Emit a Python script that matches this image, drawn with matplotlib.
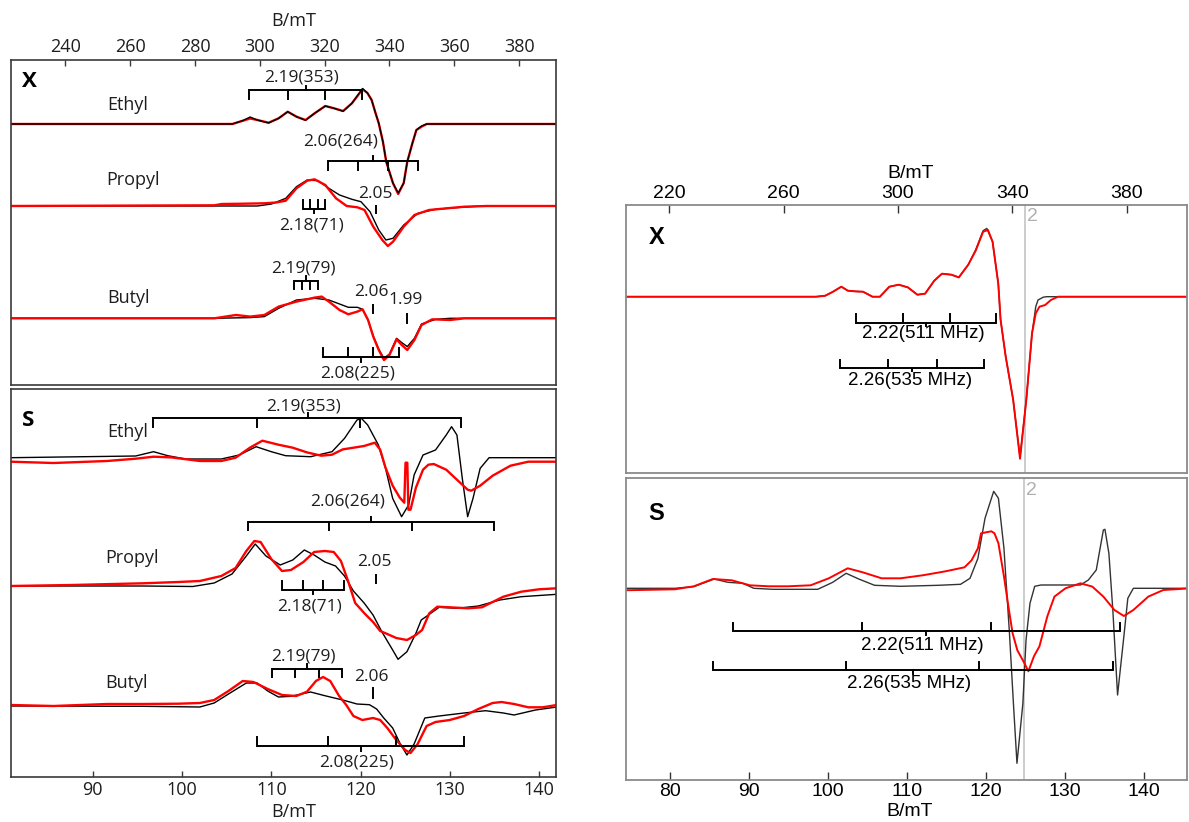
import numpy as np
import matplotlib.pyplot as plt

# ---------------- data (B in mT, intensity in arb. units) ----------------
# X band, left: ethyl / propyl / butyl
ethyl_x_B = [223, 291.5, 294.8, 297.0, 299.2, 302.7, 305.8, 308.6, 311.3, 314.1, 316.9, 320.2, 322.9, 325.7,
             328.4, 331.7, 333.2, 334.5, 335.6, 336.7, 338.0, 339.0, 341.1, 342.7, 344.4, 345.5, 347.1, 348.3,
             349.9, 351.5, 392]
ethyl_x_exp = [0, 0, 3.3, 5.5, 4, 1.3, 5.7, 12.3, 7.3, 4, 10.7, 18, 15.7, 13, 20.7, 34.7, 31, 24, 12, 0.7,
               -18, -37.7, -59.3, -70, -59, -37.7, -19, -6, -2.7, 0, 0]
ethyl_x_sim = [0, 0, 3.5, 7, 4, 1, 5.7, 12.3, 7.3, 3.7, 10.7, 18, 15.7, 12.7, 20.7, 35.5, 31, 24, 12, 0.7,
               -18, -37.7, -59.3, -69, -59, -37.7, -19, -6, -2, 0, 0]

propyl_x_exp_B = [223, 286, 288.2, 295, 301.4, 305, 308.0, 311.3, 314.6, 316.9, 320.2, 323.5, 326.8, 330.1,
                  332.3, 335.0, 337.8, 339.5, 341.1, 344.4, 347.7, 352.2, 357.7, 363.2, 370, 392]
propyl_x_exp = [0, 0.7, 2, 2.3, 2.7, 3.5, 5.3, 17.7, 25.3, 26.7, 21, 7.7, 0, -1.3, -4, -20.7, -34, -40,
                -35.7, -20.7, -9, -4, -2.3, -0.7, 0, 0]
propyl_x_sim_B = [223, 299.2, 303.6, 308.0, 311.3, 314.6, 317.9, 321.3, 324.6, 328.4, 331.2, 334.0, 336.7,
                  338.9, 341.1, 344.4, 348.8, 354.3, 362.0, 368.6, 392]
propyl_x_sim = [0, 0, 2, 7.7, 19.3, 26, 25.3, 17.7, 11, 6.7, 4.3, -5.7, -24, -34, -32.3, -19, -7.3, -3.3,
                -1.3, 0, 0]

butyl_x_exp_B = [223, 286, 292.6, 297.0, 301.4, 305.8, 311.3, 316.9, 319.1, 321.3, 324.6, 327.3, 330.1, 331.7,
                 333.4, 335.0, 336.7, 338.3, 340.0, 342.2, 343.8, 345.5, 347.7, 349.9, 353.2, 358.7, 363.2, 392]
butyl_x_exp = [0, 0, 3.3, 1.7, 3.3, 11.7, 16.7, 20.7, 21.7, 16.7, 8.3, 4, 6.7, 9, -1.7, -18.3, -31.7, -41.7,
               -36.7, -21, -26.7, -31.7, -21.7, -6.7, -1, -1.7, 0, 0]
butyl_x_sim_B = [223, 286, 297.0, 301.4, 305.8, 311.3, 316.9, 321.3, 324.6, 327.3, 330.1, 331.7, 333.4, 335.0,
                 336.7, 338.3, 340.0, 342.2, 343.8, 345.5, 347.7, 349.9, 354.3, 358.7, 392]
butyl_x_sim = [0, 0, 0.7, 1.7, 10, 18.3, 20, 18.3, 14.3, 11, 11, 9, -1.7, -17.7, -31, -40, -35.7, -20, -24.3,
               -28.3, -20, -5.7, -1, 0, 0]

# S band, left
ethyl_s_exp_B = [80.8, 85.6, 91.6, 94.8, 96.8, 98.8, 102.0, 104.4, 106.0, 107.6, 109.0, 110.8, 112.4, 114.0,
                 115.6, 116.8, 118.0, 119.2, 120.4, 121.6, 122.2, 122.8, 123.6, 124.4, 124.9, 125.04, 125.24,
                 125.36, 125.6, 126.2, 127.0, 127.6, 128.2, 129.6, 130.8, 132.0, 132.4, 133.4, 134.8, 136.8,
                 138.8, 142]
ethyl_s_exp = [-4, -5.3, -3.3, -1, 1, 0.3, -3.3, -3.3, 0, 10, 17, 13, 10, 5.3, 2, 3, 8.3, 10, 11.7, 15, 8,
               -10, -28, -40, -45, -5, -5, -52, -52, -30, -12, -7, -6.3, -12, -22, -32, -33, -28, -18, -8,
               -4, -4]
ethyl_s_sim_B = [80.8, 94.8, 96.8, 98.4, 100.4, 104.4, 106.4, 108.3, 110.0, 111.6, 114.4, 116.8, 118.2, 119.6,
                 120.1, 120.8, 122.0, 122.8, 123.6, 124.6, 125.4, 126.0, 127.0, 128.4, 129.6, 130.2, 130.8,
                 131.4, 132.0, 132.6, 133.4, 134.4, 142]
ethyl_s_sim = [0, 1.7, 6, 2, -1.3, -1.3, 2.7, 11, 6, 2, 1, 6, 19.3, 37.7, 39.3, 32.7, 12.7, -10.7, -40.7,
               -59, -47, -17.3, 2.7, 7.7, 22.7, 31, 22.7, -20.7, -59, -40.7, -10.7, 0, 0]

propyl_s_exp_B = [80.8, 87.6, 95.6, 99.6, 102, 104.4, 106, 107.2, 108.1, 108.8, 110, 111.2, 112.2, 113.6,
                  114.8, 116, 117, 117.8, 118.6, 119.4, 120.4, 121.4, 122.2, 123.0, 124.0, 125.2, 126.2,
                  126.9, 127.7, 128.6, 130, 132, 133.6, 136, 138, 140, 142]
propyl_s_exp = [0, 1, 2.7, 4, 5, 10, 18, 35, 45, 44, 27, 15, 16, 24, 34, 35, 34, 25, 5, -17, -27, -36, -45,
                -48, -52, -54, -49, -44, -27.3, -20.7, -21.3, -22.3, -21.3, -10.7, -5.7, -3.3, -2.3]
propyl_s_sim_B = [80.8, 95.6, 101.2, 103.6, 105.6, 107.2, 108.2, 109.4, 111, 112.4, 113.7, 114.8, 116, 117.2,
                  118.2, 119.2, 120.4, 121.4, 122.4, 123.6, 124.2, 125.2, 126.2, 126.8, 127.6, 128.8, 130.8,
                  133.2, 135.6, 138, 142]
propyl_s_sim = [0, 0, -0.5, 3, 12, 30, 42, 30, 21, 26, 36, 31, 24, 20, 10, -5, -17, -29, -46, -64, -73.3,
                -65.7, -47.3, -34, -29, -21.3, -22.3, -20, -14, -10.7, -8.3]

butyl_s_exp_B = [80.8, 85.6, 91.6, 95.6, 99.6, 102, 103.6, 105.2, 106.8, 108, 109.6, 111.2, 112.8, 114, 115,
                 115.8, 116.6, 117.6, 118.4, 119.2, 120.2, 121.4, 122.2, 123, 124, 125, 125.6, 126.4, 127.4,
                 128.4, 130, 131.6, 133.2, 134.8, 135.8, 137.2, 138.8, 140.4, 142]
butyl_s_exp = [1, 0, 2, 2, 2.3, 3, 6, 15, 25, 24, 17, 11, 10, 14.3, 25, 29, 25, 10, 1, -10, -14, -12, -14,
               -22, -34, -44, -47, -38, -20, -16, -14, -10, -3, 3, 4, 2, -1.3, -1.3, 1]
butyl_s_sim_B = [80.8, 95.6, 102, 103.6, 105.2, 107.2, 108.4, 109.6, 110.8, 112.2, 114.4, 116, 118, 119.6,
                 121, 121.8, 122.6, 123.6, 124.4, 125.2, 126, 127.2, 128.8, 131.6, 134, 136, 137.2, 139.6, 142]
butyl_s_sim = [0, -0.3, -1, 3, 12, 23, 23, 15, 9, 9.7, 14, 10.3, 6, 2, 1.3, -3, -12, -22, -37, -49, -38,
               -12, -10, -7, -4.7, -7, -9, -4, -1]

# right: X band
xr_exp_B = [204, 271.4, 274.6, 277.3, 280.2, 282.5, 285.2, 287.8, 291.1, 293.7, 297.0, 300.3, 303.5, 306.8,
            309.5, 312.7, 315.4, 318.7, 321.3, 324.6, 327.2, 329.8, 331.5, 333.1, 335.1, 335.9, 337.7, 340.3,
            342.7, 344.9, 346.9, 348.2, 349.5, 351.5, 353.5, 356, 402]
xr_exp = [0, 0, 1, 5, 10, 6, 5.3, 5, 0, 0, 10, 12, 9.3, 2, 3, 16, 23, 22, 19.3, 32, 46, 65, 66.7, 55, 13,
          -23, -60, -103, -162, -103, -36.7, -16.7, -10, -8.3, -3.3, 0, 0]
xr_sim_B = [204, 271.4, 274.6, 277.3, 280.2, 282.5, 285.2, 287.8, 291.1, 293.7, 297.0, 300.3, 303.5, 306.8,
            309.5, 312.7, 315.4, 318.7, 321.3, 324.6, 327.2, 329.8, 331.1, 333.1, 335.1, 335.9, 337.7, 340.3,
            342.7, 344.9, 346.9, 348.2, 349.0, 350.8, 352, 402]
xr_sim = [0, 0, 1, 5, 10, 6, 5.3, 5, 0, 0, 10, 12, 9.3, 2, 3, 16, 23, 22, 19.3, 32, 47, 66, 68.3, 55, 13,
          -23, -60, -103, -160, -103, -36.7, -10, -3.3, -0.5, 0, 0]

# right: S band
sr_exp_B = [74, 80.6, 83, 85.4, 87.8, 90.1, 92.5, 94.9, 97.8, 100.1, 102.5, 104.4, 106.8, 109.2, 112, 114.9,
            117.3, 118.2, 119, 119.4, 120.7, 121.1, 121.6, 122.3, 122.9, 123.4, 124, 124.9, 125.4, 126.1,
            126.8, 127.8, 128.7, 130.1, 132, 133.5, 134.9, 136.3, 137.5, 138.7, 140.6, 142.5, 146]
sr_exp = [-2, -1, 2, 9.3, 8, 3, 2, 2, 3, 10, 20, 16, 10, 10, 13, 17, 21, 28, 40, 55, 57, 55, 45, 12, -20,
          -45, -62, -75, -83, -68, -58, -28, -8.3, 0, 5, 1.7, -8.3, -21.7, -27.7, -21.7, -8.3, -1.7, 0]
sr_sim_B = [74, 80.6, 83, 85.6, 87.3, 89.2, 90.6, 93, 98.7, 100.6, 102.3, 103.9, 105.9, 109.2, 114, 116.8,
            118, 119, 119.9, 121, 121.6, 122.3, 123, 123.5, 123.95, 124.7, 125.1, 125.6, 126.2, 127, 132,
            133, 134, 134.9, 135.1, 135.6, 136.1, 136.7, 137.5, 138, 138.7, 146]
sr_sim = [0, 0, 1.7, 9.3, 6, 5, 0, -1, -1, 6, 15, 9.3, 3, 2, 3, 4, 10, 30, 70, 97, 90, 40, -45, -115, -175,
          -115, -51.7, -15, 2, 3.3, 3.3, 8.3, 18.3, 58.3, 59, 35, -21.7, -106.7, -48, -10, 0, 0]

# hyperfine stick brackets (line positions, mT)
hf_xl_ethyl = [296.8, 308.6, 320.0, 331.5]
hf_xl_propyl_a = [321.0, 330.4, 339.7, 348.8]
hf_xl_propyl_b = [313.3, 315.5, 318.0, 320.2]
hf_xl_butyl_a = [310.4, 313.0, 315.5, 318.0]
hf_xl_butyl_b = [319.6, 327.3, 335.0, 342.8]
hf_sl_ethyl = [96.8, 108.4, 119.9, 131.3]
hf_sl_propyl_a = [107.4, 116.5, 125.8, 135.0]
hf_sl_propyl_b = [111.2, 113.5, 115.8, 118.1]
hf_sl_butyl_a = [110.1, 112.7, 115.3, 117.9]
hf_sl_butyl_b = [108.4, 116.3, 124.0, 131.6]
hf_xr_a = [285.2, 301.8, 318.1, 334.4]
hf_xr_b = [279.6, 296.7, 313.6, 330.2]
hf_sr_a = [87.9, 104.3, 120.7, 137.0]
hf_sr_b = [85.4, 102.3, 119.2, 136.1]

g2_x = 344.4
g2_s = 124.9

# ---------------- figure ----------------
W, H = 1189, 822
fig = plt.figure(figsize=(W / 100, H / 100), dpi=100)

def add_panel(x0, y0, x1, y1):
    return fig.add_axes([x0 / W, 1 - y1 / H, (x1 - x0) / W, (y1 - y0) / H])

LF = "Open Sans"
RF = "Liberation Sans"
LC = "#1e1e1e"
FS_ANN = 12.5   # left annotation size
FS_LAB = 13     # left sample names / ticks

axXL = add_panel(10.7, 60, 556, 385)
axSL = add_panel(10.7, 389, 556, 777)
axXR = add_panel(626, 205, 1187, 473)
axSR = add_panel(626, 478, 1187, 780)

axXL.set_xlim(223.1, 391.4)
axXL.set_ylim(385, 60)
axSL.set_xlim(80.8, 141.9)
axSL.set_ylim(777, 389)
axXR.set_xlim(204.9, 401.1)
axXR.set_ylim(473, 205)
axSR.set_xlim(74.4, 145.5)
axSR.set_ylim(780, 478)

for ax in [axXL, axSL]:
    for s in ax.spines.values():
        s.set_color("#3a3a3a")
        s.set_linewidth(1.2)
for ax in [axXR, axSR]:
    for s in ax.spines.values():
        s.set_color("#8a8a8a")
        s.set_linewidth(1.3)
for ax in [axXL, axSL, axXR, axSR]:
    ax.set_yticks([])

axXL.xaxis.tick_top()
axXL.set_xticks(range(240, 381, 20))
axXL.tick_params(axis="x", direction="in", length=4, width=1, color="#3a3a3a", pad=3, labelsize=FS_LAB)
axSL.set_xticks(range(90, 141, 10))
axSL.tick_params(axis="x", direction="in", length=4, width=1, color="#3a3a3a", pad=3, labelsize=FS_LAB)
axXR.xaxis.tick_top()
axXR.set_xticks(range(220, 381, 40))
axXR.tick_params(axis="x", direction="in", length=5.5, width=1, color="#333333", pad=2, labelsize=14)
axSR.set_xticks(range(80, 141, 10))
axSR.tick_params(axis="x", direction="in", length=5.5, width=1, color="#333333", pad=2, labelsize=14)
for ax in [axXL, axSL]:
    for lab in ax.get_xticklabels():
        lab.set_fontfamily(LF)
        lab.set_color(LC)
for ax in [axXR, axSR]:
    for lab in ax.get_xticklabels():
        lab.set_fontfamily(RF)

fig.text(293.6 / W, 1 - 20.7 / H, "B/mT", ha="center", va="center", fontsize=FS_LAB, family=LF, color=LC)
fig.text(293.6 / W, 1 - 812 / H, "B/mT", ha="center", va="center", fontsize=FS_LAB, family=LF, color=LC)
fig.text(911 / W, 1 - 174 / H, "B/mT", ha="center", va="center", fontsize=14, family=RF)
fig.text(910 / W, 1 - 811 / H, "B/mT", ha="center", va="center", fontsize=14, family=RF)


def trace(ax, B, I, base, color, lw):
    ax.plot(B, base - np.array(I), color=color, lw=lw, solid_joinstyle="round")


def bracket(ax, ticks, y, tlen, clen, lw=1.4):
    c = np.mean(ticks)
    ax.plot([ticks[0], ticks[-1]], [y, y], color="k", lw=lw, solid_capstyle="butt")
    for t in ticks:
        ax.plot([t, t], [y, y + tlen], color="k", lw=lw)
    ax.plot([c, c], [y, y - clen], color="k", lw=lw)


def mark(ax, b, y0, y1, lw=1.4):
    ax.plot([b, b], [y0, y1], color="k", lw=lw)


def note(ax, x, y, s, size=FS_ANN):
    ax.text(x, y, s, fontsize=size, family=LF, ha="center", va="center", color=LC)


RED = "#ff0000"

# ---- left X panel ----
trace(axXL, ethyl_x_B, ethyl_x_exp, 124, RED, 1.7)
trace(axXL, ethyl_x_B, ethyl_x_sim, 124, "k", 1.0)
trace(axXL, propyl_x_sim_B, propyl_x_sim, 206, "k", 1.0)
trace(axXL, propyl_x_exp_B, propyl_x_exp, 206, RED, 1.7)
trace(axXL, butyl_x_sim_B, butyl_x_sim, 318.3, "k", 1.0)
trace(axXL, butyl_x_exp_B, butyl_x_exp, 318.3, RED, 1.7)

axXL.text(226.5, 82, "X", fontsize=16, fontweight="bold", family=LF, va="center", ha="left")
axXL.text(252.8, 105, "Ethyl", fontsize=FS_LAB, family=LF, va="center", ha="left", color=LC)
axXL.text(252.7, 180, "Propyl", fontsize=FS_LAB, family=LF, va="center", ha="left", color=LC)
axXL.text(252.9, 297.7, "Butyl", fontsize=FS_LAB, family=LF, va="center", ha="left", color=LC)

bracket(axXL, hf_xl_ethyl, 90, 9, 4)
note(axXL, 313.0, 77.3, "2.19(353)")
bracket(axXL, hf_xl_propyl_a, 161, 9, 5)
note(axXL, 325.0, 141.7, "2.06(264)")
note(axXL, 335.6, 194.3, "2.05")
mark(axXL, 335.8, 206, 213.3)
bracket(axXL, hf_xl_propyl_b, 209, -9, -4)
note(axXL, 316.0, 225, "2.18(71)")
bracket(axXL, hf_xl_butyl_a, 281, 8, 4.5)
note(axXL, 313.5, 268.3, "2.19(79)")
note(axXL, 334.5, 291.7, "2.06")
mark(axXL, 335.0, 305, 313.3)
note(axXL, 345.0, 300, "1.99")
mark(axXL, 345.3, 314.3, 322.7)
bracket(axXL, hf_xl_butyl_b, 356.7, -9, -5)
note(axXL, 330.1, 373.3, "2.08(225)")

# ---- left S panel ----
trace(axSL, ethyl_s_sim_B, ethyl_s_sim, 457.7, "k", 1.0)
trace(axSL, ethyl_s_exp_B, ethyl_s_exp, 457.7, RED, 1.7)
trace(axSL, propyl_s_sim_B, propyl_s_sim, 586, "k", 1.0)
trace(axSL, propyl_s_exp_B, propyl_s_exp, 586, RED, 1.7)
trace(axSL, butyl_s_sim_B, butyl_s_sim, 706, "k", 1.0)
trace(axSL, butyl_s_exp_B, butyl_s_exp, 706, RED, 1.7)

axSL.text(82.1, 420, "S", fontsize=16, fontweight="bold", family=LF, va="center", ha="left")
axSL.text(91.6, 431.7, "Ethyl", fontsize=FS_LAB, family=LF, va="center", ha="left", color=LC)
axSL.text(91.4, 558.3, "Propyl", fontsize=FS_LAB, family=LF, va="center", ha="left", color=LC)
axSL.text(91.4, 682.7, "Butyl", fontsize=FS_LAB, family=LF, va="center", ha="left", color=LC)

bracket(axSL, hf_sl_ethyl, 418.3, 9, 5)
note(axSL, 113.6, 406.7, "2.19(353)")
bracket(axSL, hf_sl_propyl_a, 521.7, 8, 5)
note(axSL, 118.6, 501.7, "2.06(264)")
note(axSL, 121.5, 561.7, "2.05")
mark(axSL, 121.7, 575, 582.7)
bracket(axSL, hf_sl_propyl_b, 590, -9, -4)
note(axSL, 114.3, 606.7, "2.18(71)")
bracket(axSL, hf_sl_butyl_a, 669.3, 8, 5)
note(axSL, 113.6, 656.7, "2.19(79)")
note(axSL, 121.2, 677.3, "2.06")
mark(axSL, 121.4, 688.3, 698.3)
bracket(axSL, hf_sl_butyl_b, 746, -9, -5)
note(axSL, 119.6, 762.7, "2.08(225)")

# ---- right X panel ----
axXR.axvline(g2_x, color="#c8c8c8", lw=1.3, zorder=0)
axXR.text(345.0, 216.7, "2", color="#b0b0b0", fontsize=14, family=RF, ha="left", va="center")
trace(axXR, xr_sim_B, xr_sim, 296.7, "#333333", 1.0)
trace(axXR, xr_exp_B, xr_exp, 296.7, RED, 1.4)
axXR.text(215.5, 237.3, "X", fontsize=17, fontweight="bold", family=RF, ha="center", va="center")
bracket(axXR, hf_xr_a, 322.7, -9, -3)
axXR.text(308.8, 333.3, "2.22(511 MHz)", fontsize=13.5, family=RF, ha="center", va="center")
bracket(axXR, hf_xr_b, 368.3, -8, -3)
axXR.text(304.1, 381, "2.26(535 MHz)", fontsize=13.5, family=RF, ha="center", va="center")

# ---- right S panel ----
axSR.axvline(g2_s, color="#c8c8c8", lw=1.3, zorder=0)
axSR.text(125.1, 490.7, "2", color="#b0b0b0", fontsize=14, family=RF, ha="left", va="center")
trace(axSR, sr_sim_B, sr_sim, 588.3, "#333333", 1.0)
trace(axSR, sr_exp_B, sr_exp, 588.3, RED, 1.4)
axSR.text(78.2, 513.3, "S", fontsize=17, fontweight="bold", family=RF, ha="center", va="center")
bracket(axSR, hf_sr_a, 630.7, -7.5, -4)
axSR.text(112.0, 645, "2.22(511 MHz)", fontsize=13.5, family=RF, ha="center", va="center")
bracket(axSR, hf_sr_b, 670, -8.5, -3.5)
axSR.text(110.3, 683.3, "2.26(535 MHz)", fontsize=13.5, family=RF, ha="center", va="center")

fig.savefig("out.png", dpi=100)
